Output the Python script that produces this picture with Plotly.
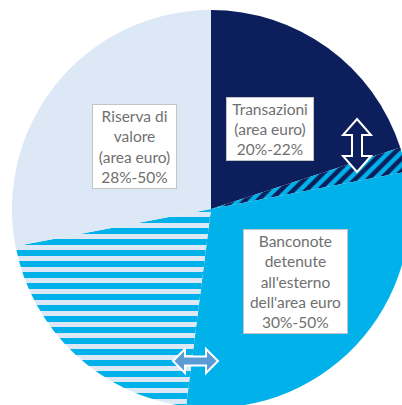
import plotly.graph_objects as go

# Shares of euro banknotes by purpose (percent ranges)
trans_low, trans_high = 20, 22
banc_low, banc_high = 30, 50
ris_low, ris_high = 28, 50

labels = ["Transazioni", "Transazioni (incertezza)", "Banconote all'esterno",
          "Banconote / Riserva (incertezza)", "Riserva di valore"]
values = [trans_low, trans_high - trans_low, banc_low,
          100 - trans_high - banc_low - ris_low, ris_low]

NAVY = "#0c1f5c"
CYAN = "#00b1ea"
PALE = "#dce8f5"
MID = "#5b9bd5"

box_texts = [
    "Transazioni<br>(area euro)<br>%d%%-%d%%" % (trans_low, trans_high),
    "Riserva di<br>valore<br>(area euro)<br>%d%%-%d%%" % (ris_low, ris_high),
    "Banconote<br>detenute<br>all'esterno<br>dell'area euro<br>%d%%-%d%%" % (banc_low, banc_high),
]

W = H = 420


def px(x):
    return x / W


def py(y):
    return 1 - y / H


fig = go.Figure()
fig.add_trace(go.Pie(
    labels=labels,
    values=values,
    sort=False,
    direction="clockwise",
    rotation=0,
    textinfo="none",
    hoverinfo="label+percent",
    showlegend=False,
    domain=dict(x=[px(12), px(410)], y=[py(408), py(10)]),
    marker=dict(
        colors=[NAVY, CYAN, CYAN, CYAN, PALE],
        line=dict(width=0),
        pattern=dict(
            shape=["", "/", "", "-", ""],
            fgcolor=[NAVY, NAVY, CYAN, PALE, PALE],
            bgcolor=[NAVY, CYAN, CYAN, CYAN, PALE],
            size=[8, 9, 8, 11, 8],
            solidity=[0.5, 0.5, 0.5, 0.45, 0.5],
            fillmode="replace",
        ),
    ),
))

# Label boxes: centre (px), width, height
boxes = [
    (box_texts[0], 270, 128.5, 84, 60),
    (box_texts[1], 134.5, 146, 81, 81),
    (box_texts[2], 295.5, 281, 101, 101),
]
for text, cx, cy, bw, bh in boxes:
    fig.add_annotation(
        text=text, x=px(cx), y=py(cy), xref="paper", yref="paper",
        showarrow=False, xanchor="center", yanchor="middle",
        width=bw, height=bh, align="center", valign="middle",
        bgcolor="white", bordercolor="#c4c4c4", borderwidth=1, borderpad=1,
        font=dict(family="Lato, 'Liberation Sans', sans-serif", size=15.5, color="#707070"),
    )


def v_arrow(cx, y0, y1, head_w, head_l, shaft_w):
    pts = [
        (cx, y0), (cx + head_w / 2, y0 + head_l), (cx + shaft_w / 2, y0 + head_l),
        (cx + shaft_w / 2, y1 - head_l), (cx + head_w / 2, y1 - head_l), (cx, y1),
        (cx - head_w / 2, y1 - head_l), (cx - shaft_w / 2, y1 - head_l),
        (cx - shaft_w / 2, y0 + head_l), (cx - head_w / 2, y0 + head_l),
    ]
    return "M " + " L ".join("%.5f,%.5f" % (px(x), py(y)) for x, y in pts) + " Z"


def h_arrow(cy, x0, x1, head_h, head_l, shaft_h):
    pts = [
        (x0, cy), (x0 + head_l, cy - head_h / 2), (x0 + head_l, cy - shaft_h / 2),
        (x1 - head_l, cy - shaft_h / 2), (x1 - head_l, cy - head_h / 2), (x1, cy),
        (x1 - head_l, cy + head_h / 2), (x1 - head_l, cy + shaft_h / 2),
        (x0 + head_l, cy + shaft_h / 2), (x0 + head_l, cy + head_h / 2),
    ]
    return "M " + " L ".join("%.5f,%.5f" % (px(x), py(y)) for x, y in pts) + " Z"


fig.add_shape(type="path", xref="paper", yref="paper",
              path=v_arrow(357, 119, 172, 28, 16, 10),
              fillcolor=NAVY, line=dict(color="white", width=2))
fig.add_shape(type="path", xref="paper", yref="paper",
              path=h_arrow(361, 173, 218, 24, 12, 9),
              fillcolor=MID, line=dict(color="white", width=2))

fig.update_layout(
    width=W, height=H,
    margin=dict(l=0, r=0, t=0, b=0),
    paper_bgcolor="white",
    plot_bgcolor="white",
)

fig.write_html(
    "out.html",
    post_script="document.documentElement.style.overflow='hidden';"
                "document.body.style.overflow='hidden';document.body.style.margin='0';",
)
